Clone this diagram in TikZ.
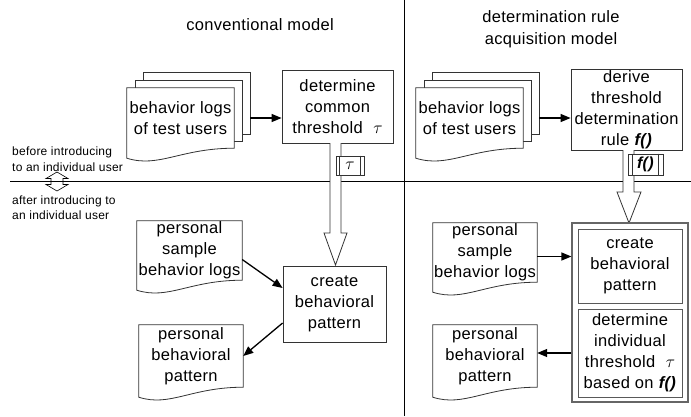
\documentclass[tikz,border=0pt]{standalone}
\usepackage{fontspec}
\setmainfont[LetterSpace=2]{Liberation Sans}
\usetikzlibrary{arrows.meta,calc}
\pgfdeclarelayer{bg}
\pgfsetlayers{bg,main}
\newcommand\docoutline[1]{%
  \begin{pgfonlayer}{bg}
  \draw[shp] (#1.north west) -- (#1.north east) -- (#1.south east)
    .. controls ($(#1.south east)!0.5!(#1.south west)$) and ($(#1.south west)!0.3!(#1.south east)+(0pt,-20pt)$) .. ($(#1.south west)+(0pt,-10pt)$) -- cycle;
  \end{pgfonlayer}}
\newcommand\lblbars[2]{%
  \draw[shp] ([xshift=#2]#1.north west) -- ([xshift=#2]#1.south west);
  \draw[shp] ([xshift=-#2]#1.north east) -- ([xshift=-#2]#1.south east);}
\tikzset{
  shp/.style={draw=black!80, line width=0.8pt, fill=white},
  txt/.style={font=\fontsize{16.5}{21}\selectfont, align=center, inner sep=0pt},
  box/.style={shp, txt},
  doc/.style={txt},
  sheet/.style={shp, inner sep=0pt},
  cont/.style={draw=black!60, line width=1.2pt, fill=white, inner sep=0pt},
  inbox/.style={draw=black!65, line width=1pt, txt},
  lbl/.style={shp, inner sep=0pt, font=\fontsize{16}{18}\selectfont},
  title/.style={font=\fontsize{16.5}{22}\selectfont, align=center, inner sep=0pt},
  note/.style={font=\fontsize{12}{15.5}\selectfont, align=left, inner sep=0pt},
  arr/.style={-{Triangle[length=10pt,width=8pt]}, line width=1.3pt},
  blockarr/.style={draw=black!80, line width=0.8pt, fill=white},
  divider/.style={line width=0.8pt}
}
\begin{document}
\begin{tikzpicture}[x=1pt,y=-1pt]
\useasboundingbox (0,0) rectangle (691,416);

% dividers
\draw[divider] (404,0) -- (404,416);
\draw[divider] (10,181.5) -- (691,181.5);

% titles
\node[title] (t1) at (260,25) {conventional model};
\node[title] (t2) at (551,29) {determination rule\\acquisition model};

% notes and double arrow
\node[note, anchor=west] (n1) at (12,159) {before introducing\\to an individual user};
\node[note, anchor=west] (n2) at (12,207.5) {after introducing to\\an individual user};
\draw[line width=0.6pt] (57,172) -- (68,178.5) -- (63,178.5) -- (63,184.5) -- (68,184.5) -- (57,191)
  -- (46,184.5) -- (51,184.5) -- (51,178.5) -- (46,178.5) -- cycle;

% ---- left: conventional model
\begin{pgfonlayer}{bg}
\node[sheet, minimum width=107pt, minimum height=62pt] (L3) at (196.5,103) {};
\node[sheet, minimum width=107pt, minimum height=61pt] (L2) at (188.5,110.5) {};
\end{pgfonlayer}
\node[doc, minimum width=107pt, minimum height=60pt] (L1) at (180.5,118) {behavior logs\\of test users};
\docoutline{L1}

\node[box, minimum width=111pt, minimum height=73pt] (B1) at (337.5,106.5) {determine\\common\\threshold\,\, $\tau$};
\draw[arr] (L1.center -| L3.east) -- (L1.center -| B1.west);

\node[box, minimum width=103pt, minimum height=76pt] (B2) at (334.5,304) {create\\behavioral\\pattern};

\draw[blockarr] (330,143) -- (330,233) -- (324,233) -- (335.5,265) -- (347,233) -- (341,233) -- (341,143);
\node[lbl, minimum width=28pt, minimum height=19pt] (tau) at (350,165.5) {$\tau$};
\lblbars{tau}{4pt}

\node[doc, minimum width=105pt, minimum height=59pt] (LS) at (189.5,250.5) {personal\\sample\\behavior logs};
\docoutline{LS}
\node[doc, minimum width=104pt, minimum height=62pt] (LP) at (191,356) {personal\\behavioral\\pattern};
\docoutline{LP}

\draw[arr] ([yshift=-9pt]LS.east) -- ([yshift=16pt]B2.west);
\draw[arr] ([yshift=-19pt]B2.west) -- (LP.east);

% ---- right: determination rule acquisition model
\begin{pgfonlayer}{bg}
\node[sheet, minimum width=107pt, minimum height=62pt] (R3) at (485.5,103) {};
\node[sheet, minimum width=107pt, minimum height=61pt] (R2) at (477.5,110.5) {};
\end{pgfonlayer}
\node[doc, minimum width=107pt, minimum height=60pt] (R1) at (469.5,118) {behavior logs\\of test users};
\docoutline{R1}

\node[box, minimum width=111pt, minimum height=81pt] (RD) at (626.5,109.5) {derive\\threshold\\determination\\rule \textbf{\textit{f()}}};
\draw[arr] (R1.center -| R3.east) -- (R1.center -| RD.west);

\draw[blockarr] (623,150) -- (623,192) -- (617,192) -- (629,223) -- (641,192) -- (634,192) -- (634,150);
\node[lbl, minimum width=35pt, minimum height=21pt] (fbox) at (645.5,164.5) {\textbf{\textit{f()}}};
\lblbars{fbox}{5pt}

\node[cont, minimum width=116pt, minimum height=179pt] (C) at (630,312.5) {};
\node[inbox, minimum width=104pt, minimum height=74pt] (RA) at (630,266) {create\\behavioral\\pattern};
\node[inbox, minimum width=104pt, minimum height=88pt] (RB) at (630,353) {determine\\individual\\threshold\,\, $\tau$\\based on \textbf{\textit{f()}}};

\node[doc, minimum width=104pt, minimum height=59pt] (RS) at (485,252.5) {personal\\sample\\behavior logs};
\docoutline{RS}
\node[doc, minimum width=104pt, minimum height=62pt] (RP) at (485,356) {personal\\behavioral\\pattern};
\docoutline{RP}

\draw[arr] ([yshift=-4pt]RS.east) -- ([yshift=-4pt]RS.east -| C.west);
\coordinate (rpe) at ([yshift=3pt]RP.east);
\draw[arr] (rpe -| C.west) -- (rpe);
\end{tikzpicture}
\end{document}
